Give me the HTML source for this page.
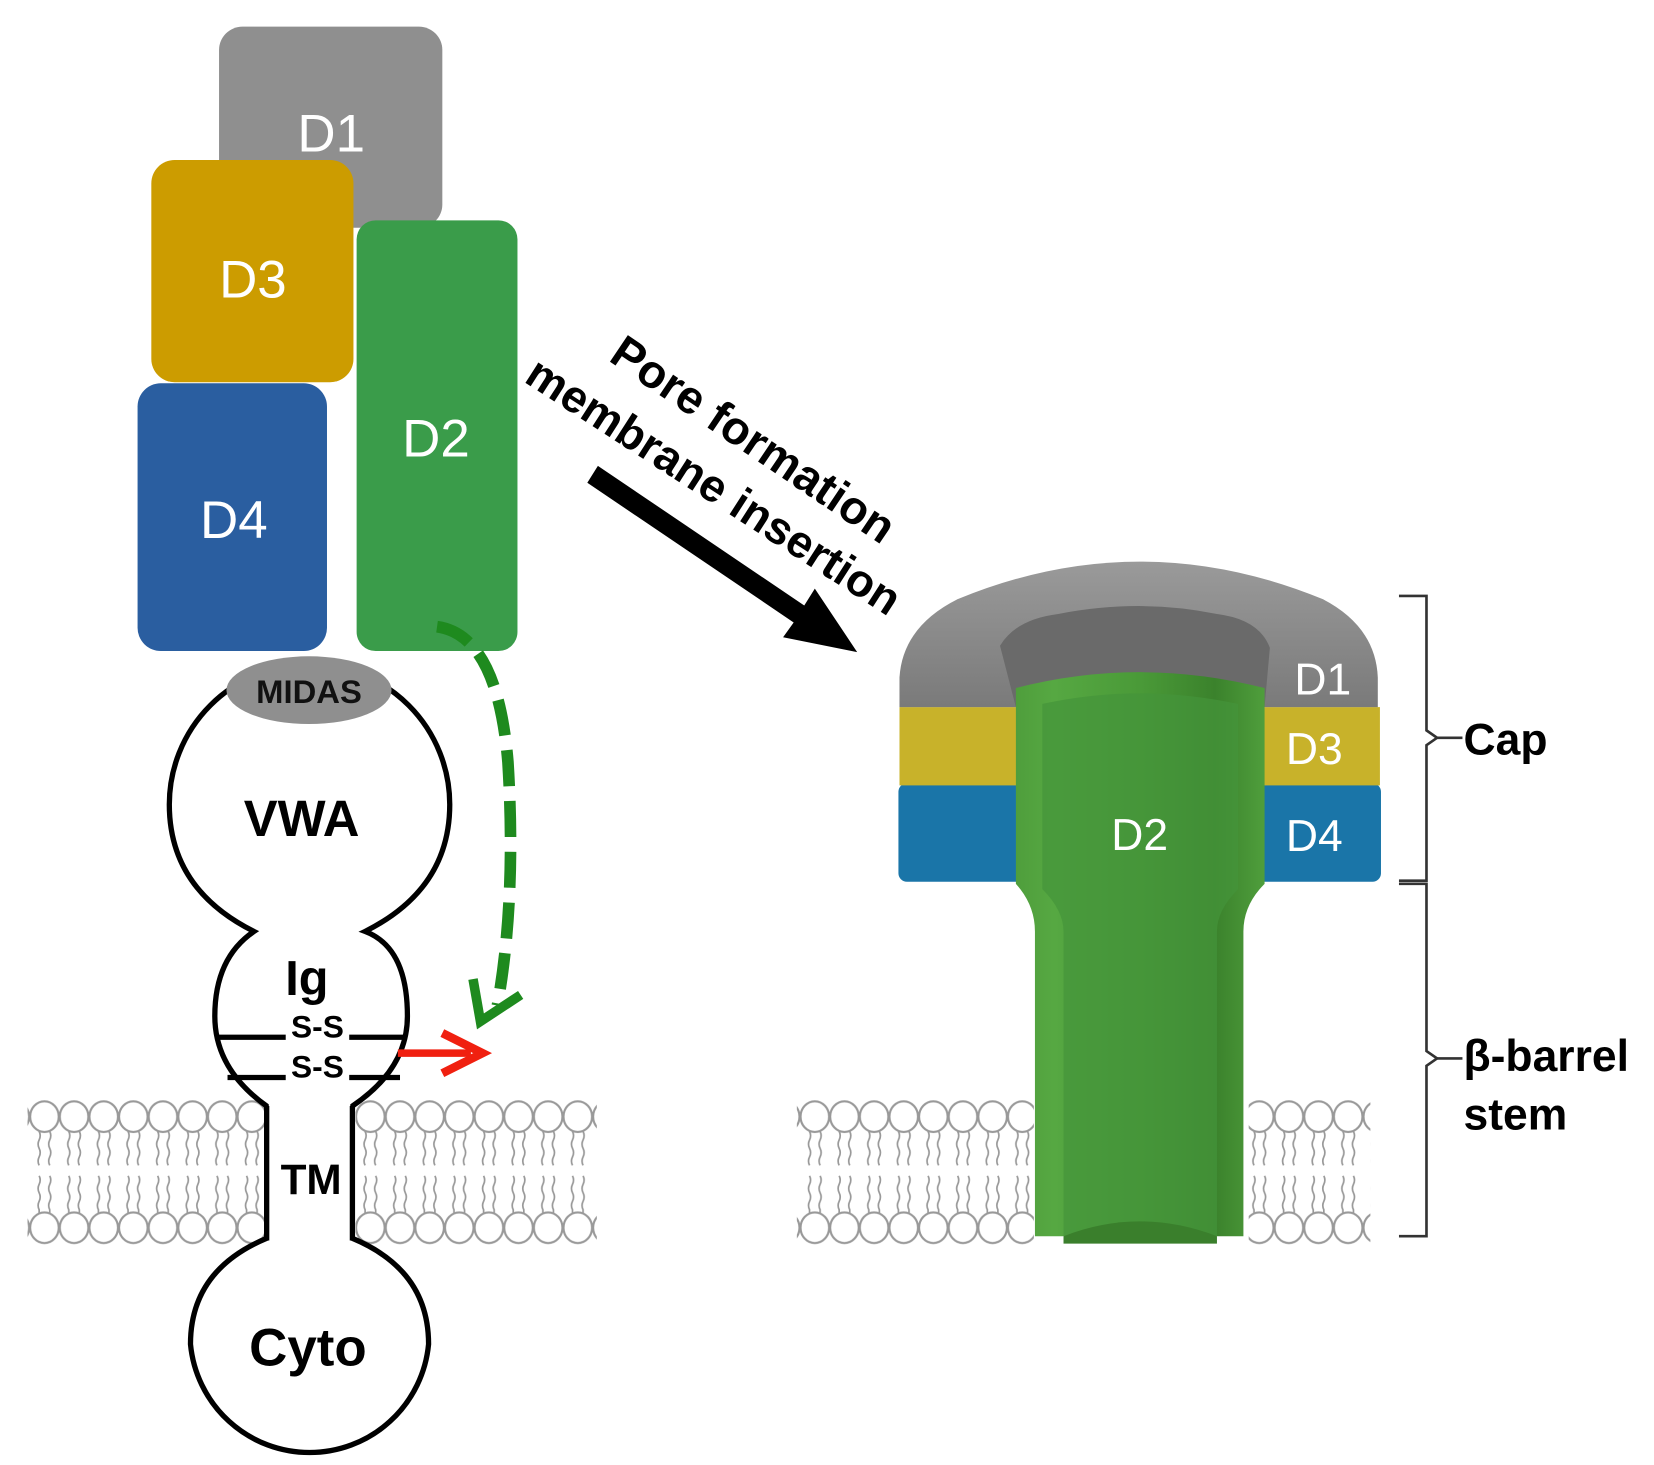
<!DOCTYPE html>
<html><head><meta charset="utf-8"><style>
html,body{margin:0;padding:0;background:#fff;}
svg{display:block;}
text{font-family:"Liberation Sans",Arial,sans-serif;}
</style></head><body>
<svg width="1654" height="1465" viewBox="0 0 1563 1384" xmlns="http://www.w3.org/2000/svg">
<defs>
<pattern id="lip" patternUnits="userSpaceOnUse" x="0" y="1038" width="28" height="140">
<g fill="#fff" stroke="#999" stroke-width="2">
<ellipse cx="14" cy="17" rx="13.5" ry="14.5"/><ellipse cx="14" cy="122" rx="13.5" ry="14.5"/>
</g>
<g fill="none" stroke="#999" stroke-width="1.6">
<path d="M9,31 q2,4 0,8 q-2,4 0,8 q2,4 0,8 q-2,4 0,8"/>
<path d="M19,31 q2,4 0,8 q-2,4 0,8 q2,4 0,8 q-2,4 0,8"/>
<path d="M9,73 q2,4 0,8 q-2,4 0,8 q2,4 0,8 q-2,4 0,8 l0,3"/>
<path d="M19,73 q2,4 0,8 q-2,4 0,8 q2,4 0,8 q-2,4 0,8 l0,3"/>
</g>
</pattern>
<linearGradient id="tube" x1="0" x2="1" y1="0" y2="0">
<stop offset="0" stop-color="#4f9e3c"/><stop offset="0.15" stop-color="#56a842"/>
<stop offset="0.5" stop-color="#4a9a38"/><stop offset="0.8" stop-color="#3b822c"/><stop offset="1" stop-color="#4f9e3c"/>
</linearGradient>
<linearGradient id="dome" x1="0" x2="0" y1="0" y2="1">
<stop offset="0" stop-color="#9a9a9a"/><stop offset="1" stop-color="#7a7a7a"/>
</linearGradient>
</defs>

<rect x="207" y="25" width="211" height="190" rx="22" fill="#8f8f8f"/>
<text x="313" y="143" font-size="50" fill="#fff" text-anchor="middle">D1</text>
<rect x="143" y="151" width="191" height="210" rx="22" fill="#cc9c00"/>
<text x="239" y="281" font-size="50" fill="#fff" text-anchor="middle">D3</text>
<rect x="130" y="362" width="179" height="253" rx="22" fill="#2a5ea0"/>
<text x="221" y="508" font-size="50" fill="#fff" text-anchor="middle">D4</text>
<rect x="337" y="208" width="152" height="407" rx="18" fill="#3a9c4a"/>
<text x="412" y="431" font-size="50" fill="#fff" text-anchor="middle">D2</text>

<rect x="26" y="1038" width="224" height="140" fill="url(#lip)"/>
<rect x="336" y="1038" width="228" height="140" fill="url(#lip)"/>
<rect x="753" y="1038" width="224" height="140" fill="url(#lip)"/>
<rect x="1180" y="1038" width="115" height="140" fill="url(#lip)"/>

<g fill="#fff" stroke="#000" stroke-width="5">
<path d="M252,1045 L252,1170 Q180,1200 180,1270 A113,113 0 0 0 405,1270 Q405,1200 333,1170 L333,1045 Q385,1010 385,960 Q385,895 345,880 Q425,840 425,760 A132,132 0 0 0 160,760 Q160,840 240,880 Q203,905 203,960 Q203,1010 252,1045 Z"/>
</g>
<rect x="254" y="1040" width="77" height="134" fill="#fff"/>
<g stroke="#000" stroke-width="5" fill="none">
<line x1="252" y1="1045" x2="252" y2="1172"/><line x1="333" y1="1045" x2="333" y2="1172"/>
<line x1="205" y1="980" x2="270" y2="980"/><line x1="330" y1="980" x2="384" y2="980"/>
<line x1="215" y1="1018" x2="270" y2="1018"/><line x1="330" y1="1018" x2="378" y2="1018"/>
</g>
<ellipse cx="292" cy="652" rx="78" ry="32" fill="#8f8f8f"/>
<text x="292" y="664" font-size="31" font-weight="bold" text-anchor="middle" fill="#111">MIDAS</text>
<text x="285" y="790" font-size="48" font-weight="bold" text-anchor="middle">VWA</text>
<text x="290" y="940" font-size="46" font-weight="bold" text-anchor="middle">Ig</text>
<text x="300" y="980" font-size="30" font-weight="bold" text-anchor="middle">S-S</text>
<text x="300" y="1018" font-size="30" font-weight="bold" text-anchor="middle">S-S</text>
<text x="294" y="1128" font-size="40" font-weight="bold" text-anchor="middle">TM</text>
<text x="291" y="1290" font-size="50" font-weight="bold" text-anchor="middle">Cyto</text>

<path d="M413,592 Q470,600 480,720 Q488,850 470,950" fill="none" stroke="#1e8a1e" stroke-width="11" stroke-dasharray="34,14"/>
<path d="M447,925 L454,965 L492,940" fill="none" stroke="#1e8a1e" stroke-width="9"/>
<line x1="376" y1="995" x2="445" y2="995" stroke="#f02010" stroke-width="7"/>
<path d="M418,976 L456,995 L418,1014" fill="none" stroke="#f02010" stroke-width="8"/>

<path d="M565,440 L760,572 L770,556 L810,616 L740,602 L750,588 L555,456 Z" fill="#000"/>
<text transform="translate(574,340) rotate(34)" font-size="44" font-weight="bold">Pore formation</text>
<text transform="translate(494,360) rotate(32.8)" font-size="43" font-weight="bold">membrane insertion</text>

<rect x="849" y="740" width="456" height="93" rx="8" fill="#1a75a8"/>
<rect x="850" y="668" width="454" height="74" fill="#c8b22a"/>
<path d="M850,668 L850,640 Q853,592 905,566 Q1077,495 1250,566 Q1300,592 1302,640 L1302,668 Z" fill="url(#dome)"/>
<path d="M945,610 Q960,585 1000,580 Q1077,565 1150,580 Q1190,585 1200,612 L1195,668 L960,668 Z" fill="#6a6a6a"/>
<path d="M978,1168 L978,880 Q978,855 960,835 L960,650 Q1077,620 1195,650 L1195,835 Q1175,855 1175,880 L1175,1168 Z" fill="url(#tube)"/>
<path d="M1005,1168 L1005,880 Q1005,860 985,840 L985,665 Q1077,645 1170,665 L1170,840 Q1150,860 1150,880 L1150,1168 Q1077,1145 1005,1168 Z" fill="#45943a" opacity="0.7"/>
<path d="M1005,1168 Q1077,1140 1150,1168 L1150,1175 L1005,1175 Z" fill="#3a7f2c"/>
<text x="1077" y="803" font-size="42" fill="#fff" text-anchor="middle">D2</text>
<text x="1250" y="656" font-size="42" fill="#fff" text-anchor="middle">D1</text>
<text x="1242" y="722" font-size="42" fill="#fff" text-anchor="middle">D3</text>
<text x="1242" y="804" font-size="42" fill="#fff" text-anchor="middle">D4</text>

<g fill="none" stroke="#333" stroke-width="2.5">
<path d="M1322,563 L1348,563 L1348,690 L1358,697 L1348,704 L1348,832 L1322,832"/>
<path d="M1322,835 L1348,835 L1348,993 L1358,1000 L1348,1007 L1348,1168 L1322,1168"/>
<line x1="1358" y1="697" x2="1382" y2="697"/>
<line x1="1358" y1="1000" x2="1382" y2="1000"/>
</g>
<text x="1383" y="713" font-size="42" font-weight="bold">Cap</text>
<text x="1383" y="1012" font-size="42" font-weight="bold">β-barrel</text>
<text x="1383" y="1067" font-size="42" font-weight="bold">stem</text>
</svg>
</body></html>
